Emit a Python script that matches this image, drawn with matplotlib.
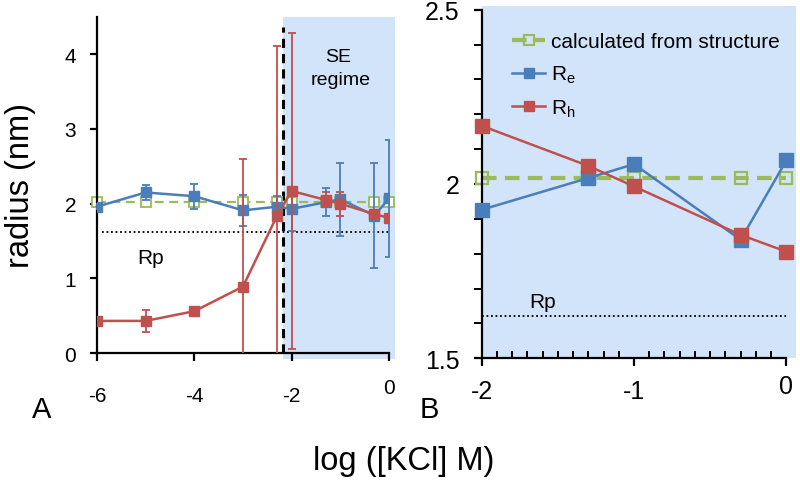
import matplotlib
matplotlib.use("Agg")
import matplotlib.pyplot as plt
from matplotlib.patches import Rectangle
from matplotlib.ticker import MultipleLocator

plt.rcParams['font.family'] = ['Liberation Sans', 'DejaVu Sans']
plt.rcParams['mathtext.default'] = 'regular'

# ---- data ----
x_all = [-6, -5, -4, -3, -2.3, -2, -1.3, -1, -0.3, 0]
re_vals = [1.96, 2.15, 2.10, 1.91, 1.96, 1.93, 2.02, 2.06, 1.84, 2.07]
re_err = [0.05, 0.10, 0.17, 0.21, 0.14, 0.29, 0.19, 0.49, 0.70, 0.78]
rh_vals = [0.43, 0.43, 0.56, 0.89, 1.84, 2.17, 2.05, 2.00, 1.86, 1.81]
rh_err = [0.0, 0.15, 0.03, 1.71, 2.27, 2.11, 0.10, 0.16, 0.0, 0.0]
calc_vals = [2.02] * len(x_all)
rp_value = 1.62
se_threshold = -2.18

x_b = [-2, -1.3, -1, -0.3, 0]
re_b = [1.926, 2.017, 2.057, 1.84, 2.068]
rh_b = [2.167, 2.052, 1.993, 1.854, 1.806]
calc_b = [2.017] * len(x_b)

blue = '#4A7EBB'
red = '#C0504D'
green = '#9BBB59'
shade = '#D2E4FA'

fig = plt.figure(figsize=(8, 4.81), dpi=100)

# ---------------- Panel A ----------------
axA = fig.add_axes([0.12125, 0.264, 0.365, 0.6986])
axA.set_xlim(-6, 0)
axA.set_ylim(0, 4.5)
axA.add_patch(Rectangle((se_threshold, -0.08), 0 + 0.12 - se_threshold, 4.58,
                        facecolor=shade, edgecolor='none', zorder=0, clip_on=False))
axA.plot([-5.9, 0], [rp_value, rp_value], color='black', ls=(0, (1, 1.5)), lw=1.3, zorder=1)
axA.plot([se_threshold, se_threshold], [0, 4.37], color='black', ls=(0, (3, 2)), lw=2.2, zorder=1.5)
axA.plot(x_all, calc_vals, color=green, ls=(0, (4, 2.5)), lw=1.6, marker='s', ms=6.5,
         mfc='white', mec=green, mew=1.3, zorder=2, clip_on=False)
axA.errorbar(x_all, re_vals, yerr=re_err, color=blue, lw=1.8, marker='s', ms=7,
             elinewidth=1.3, capsize=3, capthick=1.3, zorder=3, clip_on=False)
axA.errorbar(x_all, rh_vals, yerr=rh_err, color=red, lw=1.8, marker='s', ms=7,
             elinewidth=1.3, capsize=3, capthick=1.3, zorder=4)
for art in axA.lines:
    art.set_clip_on(True)
axA.lines[2].set_clip_on(False)

axA.text(-4.9, 1.28, 'Rp', fontsize=15, ha='center', va='center')
axA.text(-1.05, 3.97, 'SE', fontsize=14, ha='center', va='center')
axA.text(-1.0, 3.66, 'regime', fontsize=14, ha='center', va='center')

axA.spines['top'].set_visible(False)
axA.spines['right'].set_visible(False)
axA.spines['left'].set_linewidth(1.6)
axA.spines['bottom'].set_linewidth(1.6)
axA.set_xticks([-6, -4, -2, 0])
axA.set_xticklabels(['-6', '-4', '-2', '0'])
axA.set_yticks([0, 1, 2, 3, 4])
axA.tick_params(axis='x', direction='out', length=6, width=1.6, pad=18, labelsize=15)
axA.tick_params(axis='y', direction='out', length=5, width=1.6, pad=10, labelsize=15)
axA.xaxis.get_major_ticks()[-1].label1.set_y(0.024)

# ---------------- Panel B ----------------
axB = fig.add_axes([0.602, 0.253, 0.381, 0.7248])
axB.set_xlim(-2, 0)
axB.set_ylim(1.5, 2.5)
axB.add_patch(Rectangle((-2, 1.5), 2.06, 1.01, facecolor=shade, edgecolor='none',
                        zorder=0, clip_on=False))
axB.plot([-2, 0], [rp_value, rp_value], color='black', ls=(0, (1, 1.5)), lw=1.3, zorder=1)
axB.plot(x_b, calc_b, color=green, ls=(0, (3.5, 2)), lw=3, marker='s', ms=9,
         mfc='none', mec=green, mew=1.6, zorder=2, clip_on=False,
         label='calculated from structure')
axB.plot(x_b, re_b, color=blue, lw=1.8, marker='s', ms=10, zorder=3, clip_on=False,
         label='R$_e$')
axB.plot(x_b, rh_b, color=red, lw=1.8, marker='s', ms=10, zorder=4, clip_on=False,
         label='R$_h$')
axB.text(-1.6, 1.664, 'Rp', fontsize=15, ha='center', va='center')

leg = axB.legend(loc='upper left', bbox_to_anchor=(0.1, 0.935), frameon=False,
                 fontsize=15, handlelength=1.6, handletextpad=0.25, labelspacing=0.6,
                 borderpad=0, borderaxespad=0)
for h in leg.legend_handles:
    h.set_markersize(7)

axB.spines['top'].set_visible(False)
axB.spines['right'].set_visible(False)
axB.spines['left'].set_linewidth(1.6)
axB.spines['bottom'].set_linewidth(1.6)
axB.set_xticks([-2, -1, 0])
axB.set_xticklabels(['-2', '-1', '0'])
axB.set_yticks([1.5, 2, 2.5])
axB.set_yticklabels(['1.5', '2', '2.5'])
axB.xaxis.set_minor_locator(MultipleLocator(0.1))
axB.yaxis.set_minor_locator(MultipleLocator(0.1))
axB.tick_params(axis='x', which='major', direction='out', length=6, width=1.6, pad=9, labelsize=18)
axB.tick_params(axis='x', which='minor', direction='in', length=5, width=1.4)
axB.tick_params(axis='y', which='major', direction='out', length=6, width=1.6, pad=10, labelsize=18)
axB.tick_params(axis='y', which='minor', direction='out', length=6, width=1.4)
axB.xaxis.get_major_ticks()[-1].label1.set_y(0.014)

# ---------------- figure texts ----------------
fig.text(0.026, 0.614, 'radius (nm)', fontsize=23.5, rotation=90, ha='center', va='center')
fig.text(0.504, 0.023, 'log ([KCl] M)', fontsize=23.5, ha='center', va='baseline')
fig.text(0.04, 0.131, 'A', fontsize=21, ha='left', va='baseline')
fig.text(0.525, 0.131, 'B', fontsize=21, ha='left', va='baseline')

fig.savefig('out.png', dpi=100)
